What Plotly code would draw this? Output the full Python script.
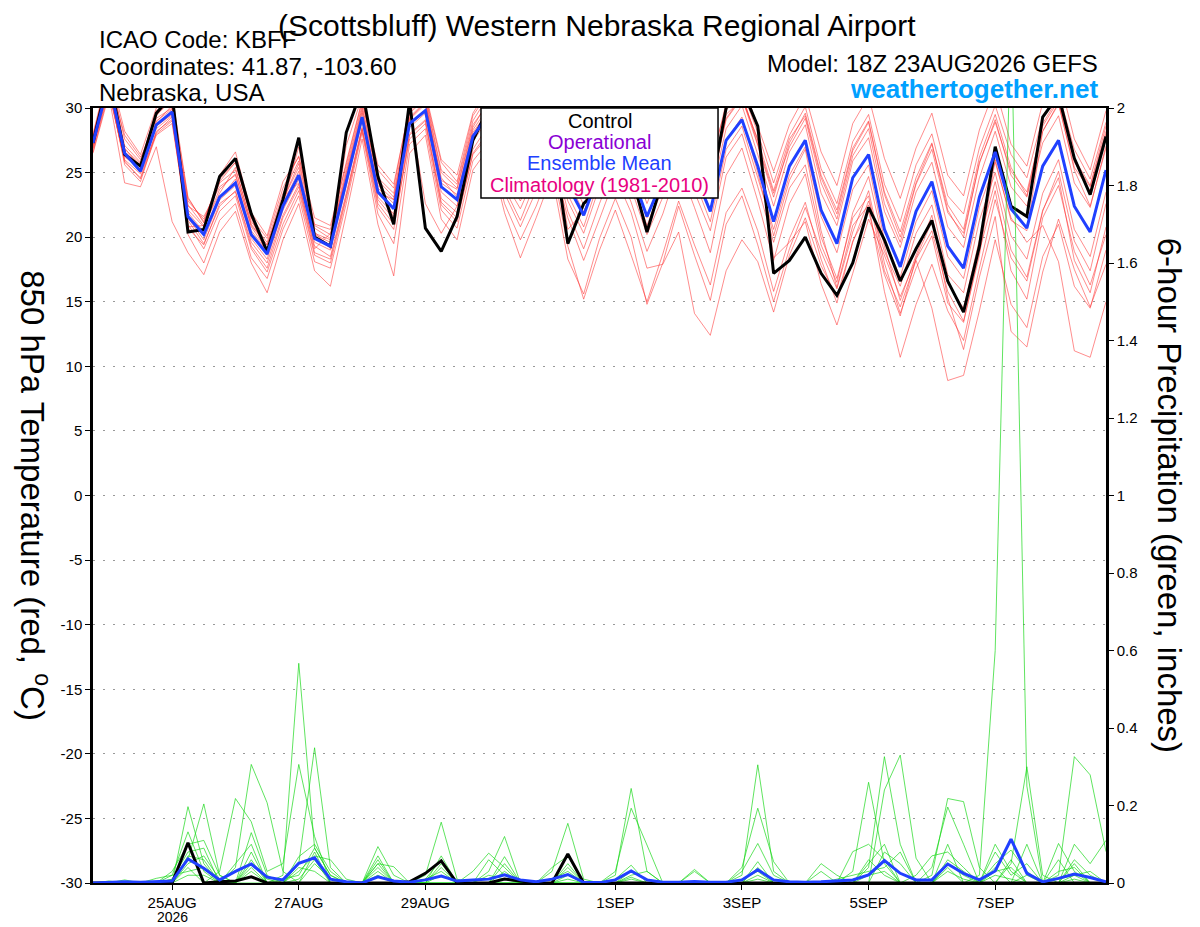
import pandas as pd
import plotly.graph_objects as go

# 6-hourly valid times, 18Z 23AUG2026 run
times = pd.date_range("2026-08-23 18:00", periods=65, freq="6h")

tick_dates = ["2026-08-25", "2026-08-27", "2026-08-29", "2026-09-01",
              "2026-09-03", "2026-09-05", "2026-09-07"]
tick_text = ["25AUG", "27AUG", "29AUG", "1SEP", "3SEP", "5SEP", "7SEP"]

temp_ticks = [-30, -25, -20, -15, -10, -5, 0, 5, 10, 15, 20, 25, 30]
temp_tick_text = ["-30", "-25", "-20", "-15", "-10", "-5", "0", "5", "10", "15", "20", "25", "30"]

# 850 hPa temperature, ensemble mean and control
t_mean = [27.3, 32.0, 26.5, 25.1, 28.7, 29.7, 21.6, 20.2, 23.1, 24.2, 20.2, 18.7, 22.4,
          24.8, 19.9, 19.3, 24.3, 29.3, 23.5, 22.2, 28.8, 29.8, 23.9, 22.9, 27.8, 29.5,
          25.5, 23.5, 26.0, 28.5, 24.0, 21.7, 25.0, 27.5, 25.0, 21.6, 24.5, 27.5, 25.0,
          22.0, 27.5, 29.1, 25.5, 21.2, 25.5, 27.5, 22.1, 19.5, 24.6, 26.4, 20.6, 17.7,
          22.0, 24.3, 19.3, 17.6, 23.1, 26.6, 22.2, 20.7, 25.5, 27.5, 22.4, 20.4, 25.2]
t_ctrl = [27.3, 32.5, 26.4, 25.5, 29.6, 31.0, 20.4, 20.6, 24.7, 26.1, 21.8, 18.9, 22.9,
          27.7, 20.0, 19.3, 28.1, 31.5, 24.7, 21.0, 30.5, 20.7, 18.9, 21.6, 27.5, 30.0,
          26.0, 24.0, 26.5, 28.0, 19.5, 22.6, 23.8, 27.0, 25.0, 20.4, 24.5, 28.0, 26.0,
          23.5, 30.0, 31.5, 28.6, 17.2, 18.2, 20.0, 17.2, 15.5, 18.0, 22.3, 19.8, 16.6,
          19.1, 21.3, 16.6, 14.2, 19.3, 27.0, 22.4, 21.6, 29.3, 31.0, 26.1, 23.3, 27.8]

# 850 hPa temperature, ensemble members
t_m01 = [27.8, 32.8, 27.6, 26.0, 29.5, 30.6, 23.0, 21.2, 24.5, 25.8, 21.5, 19.9, 23.8, 26.3, 21.0,
         20.6, 25.8, 30.6, 25.2, 23.8, 30.2, 31.0, 25.8, 24.3, 29.4, 31.2, 27.6, 25.1, 27.9, 30.3,
         26.2, 23.9, 27.2, 29.8, 27.5, 23.8, 26.9, 30.1, 27.6, 24.5, 29.8, 31.4, 28.1, 24.2, 27.9,
         30.1, 25.3, 22.6, 27.4, 29.5, 24.1, 21.2, 25.6, 28.0, 23.2, 21.8, 26.9, 30.2, 26.4, 24.6,
         29.3, 31.2, 26.8, 24.5, 28.9]
t_m02 = [26.9, 31.5, 25.8, 24.6, 28.2, 29.1, 20.7, 19.4, 22.6, 23.5, 19.6, 18.0, 21.7, 24.1, 19.3,
         18.5, 23.4, 28.5, 22.9, 21.4, 28.0, 29.1, 23.0, 21.9, 26.8, 28.7, 24.3, 22.2, 25.0, 27.6,
         22.8, 20.3, 23.9, 26.5, 23.8, 20.2, 23.1, 26.4, 23.5, 20.5, 26.2, 28.0, 23.9, 19.6, 23.8,
         25.6, 20.0, 16.8, 21.5, 23.2, 17.4, 14.6, 18.2, 14.5, 8.9, 9.3, 14.3, 19.8, 14.8, 13.0,
         18.5, 21.0, 16.2, 14.5, 19.0]
t_m03 = [27.5, 32.3, 26.9, 25.4, 29.0, 29.9, 22.1, 20.8, 23.7, 24.9, 20.8, 19.0, 22.9, 25.4, 20.3,
         19.8, 24.9, 29.6, 24.0, 22.9, 29.1, 30.3, 24.6, 23.1, 28.1, 29.8, 26.0, 23.6, 26.2, 28.9,
         24.5, 21.9, 25.3, 27.6, 25.2, 21.5, 24.6, 27.8, 25.3, 22.1, 27.5, 29.3, 25.0, 20.1, 24.4,
         26.8, 20.5, 16.1, 20.9, 22.5, 15.8, 10.7, 14.8, 17.9, 14.3, 12.0, 17.6, 22.9, 18.4, 16.6,
         22.0, 25.1, 19.7, 17.4, 22.6]
t_m04 = [26.6, 31.2, 26.0, 24.9, 28.0, 29.0, 21.3, 19.5, 22.4, 23.6, 19.3, 17.6, 21.5, 23.9, 18.8,
         18.3, 23.2, 28.4, 22.6, 21.0, 27.6, 28.8, 22.7, 21.5, 26.4, 27.9, 23.4, 20.8, 23.6, 26.1,
         21.5, 18.2, 21.4, 24.7, 21.9, 17.6, 17.9, 20.4, 14.1, 12.4, 17.4, 19.8, 18.1, 14.2, 18.6,
         21.5, 17.8, 15.4, 19.6, 22.8, 18.9, 16.2, 20.3, 22.5, 17.1, 15.7, 21.3, 25.0, 20.1, 18.3,
         23.4, 26.0, 20.6, 18.5, 23.5]
t_m05 = [27.4, 32.1, 26.2, 25.3, 28.9, 30.2, 21.9, 20.4, 23.0, 24.5, 20.5, 18.9, 22.6, 25.1, 20.2,
         19.6, 24.6, 29.8, 23.8, 22.6, 29.2, 30.4, 24.2, 23.3, 28.3, 30.1, 26.1, 24.2, 26.8, 29.3,
         25.1, 22.5, 25.9, 28.4, 26.0, 22.6, 25.6, 28.7, 26.1, 23.0, 28.4, 30.2, 26.4, 22.4, 26.6,
         28.7, 23.4, 20.9, 25.9, 27.7, 22.0, 19.2, 23.5, 25.8, 20.8, 19.2, 24.6, 28.2, 23.9, 22.4,
         27.3, 29.4, 24.2, 22.3, 27.1]
t_m06 = [27.9, 32.6, 27.1, 25.8, 29.2, 30.0, 22.8, 21.4, 24.2, 25.2, 21.2, 19.6, 23.4, 25.9, 20.9,
         20.2, 25.3, 30.2, 24.6, 23.4, 29.7, 30.9, 25.2, 24.1, 29.0, 31.0, 27.4, 25.3, 28.1, 30.6,
         26.8, 24.2, 27.5, 30.2, 27.8, 24.4, 27.3, 30.5, 28.1, 25.2, 30.4, 32.0, 28.6, 25.1, 28.7,
         31.0, 26.6, 24.0, 28.8, 30.9, 26.1, 23.0, 26.9, 29.6, 24.8, 23.2, 28.3, 31.6, 27.2, 25.5,
         30.4, 32.5, 27.6, 25.2, 29.8]
t_m07 = [27.0, 31.7, 25.6, 24.3, 28.1, 29.3, 20.2, 18.0, 21.3, 22.6, 18.4, 16.8, 20.6, 23.2, 18.1,
         17.6, 22.6, 28.1, 21.8, 19.5, 27.2, 28.4, 22.1, 20.7, 25.9, 27.4, 22.6, 19.8, 22.4, 25.6,
         19.3, 15.2, 19.0, 22.1, 18.6, 15.0, 18.7, 22.8, 19.4, 16.3, 21.9, 23.8, 20.5, 15.8, 19.9,
         22.7, 18.3, 14.9, 19.7, 22.0, 17.1, 13.9, 18.4, 21.2, 16.4, 14.5, 19.8, 24.3, 19.0, 16.9,
         22.1, 24.6, 18.2, 15.7, 20.8]
t_m08 = [27.2, 32.4, 26.6, 25.6, 29.4, 30.8, 20.8, 20.9, 24.3, 25.8, 21.5, 18.6, 22.5, 27.0, 20.4,
         19.1, 27.1, 30.9, 24.3, 21.5, 29.8, 22.6, 20.3, 22.4, 27.9, 29.9, 25.8, 23.3, 25.9, 27.6,
         20.6, 22.0, 24.4, 26.9, 24.6, 20.9, 24.1, 27.7, 25.7, 23.0, 29.5, 30.7, 27.6, 18.4, 19.6,
         21.2, 16.4, 13.2, 17.2, 21.4, 18.6, 15.4, 18.3, 20.5, 15.8, 13.5, 18.6, 26.0, 21.3, 20.5,
         28.2, 30.4, 25.2, 22.4, 26.9]
t_m09 = [27.6, 31.9, 26.4, 25.0, 28.6, 29.5, 21.5, 19.8, 22.9, 24.0, 19.9, 18.3, 22.1, 24.5, 19.6,
         19.0, 24.0, 29.0, 23.1, 21.8, 28.5, 29.6, 23.5, 22.4, 27.4, 29.2, 25.0, 22.8, 25.5, 28.0,
         23.3, 20.8, 24.5, 27.0, 24.3, 20.7, 23.8, 27.0, 24.4, 21.2, 26.8, 28.6, 24.6, 20.6, 24.8,
         27.0, 21.6, 18.8, 23.7, 25.6, 19.8, 16.9, 21.2, 23.6, 18.5, 16.8, 22.3, 25.8, 21.5, 19.6,
         20.9, 18.1, 11.2, 10.7, 15.0]
t_m10 = [28.0, 33.0, 28.2, 26.4, 30.0, 31.0, 23.1, 21.1, 24.8, 26.6, 21.9, 20.1, 24.3, 26.2, 21.5,
         20.9, 25.6, 30.5, 25.6, 24.1, 30.0, 31.2, 26.0, 24.8, 29.6, 31.5, 28.0, 26.1, 28.6, 31.0,
         27.5, 25.0, 28.1, 30.8, 28.4, 25.1, 28.0, 31.0, 28.7, 25.9, 30.0, 31.1, 27.2, 23.4, 27.0,
         29.2, 24.2, 21.4, 26.3, 28.4, 22.6, 19.6, 24.1, 26.8, 21.9, 20.3, 25.7, 29.1, 24.8, 23.1,
         28.2, 30.3, 25.4, 23.6, 28.0]
t_m11 = [26.8, 31.4, 25.9, 24.5, 27.9, 28.8, 21.0, 19.1, 22.0, 23.2, 19.1, 17.3, 21.0, 23.6, 18.6,
         18.0, 23.0, 28.3, 22.3, 20.6, 27.9, 29.0, 22.5, 21.2, 26.5, 28.2, 23.8, 21.3, 24.4, 27.0,
         22.0, 19.1, 22.6, 25.8, 22.7, 18.9, 21.8, 25.6, 22.3, 18.8, 24.8, 26.9, 22.8, 18.2, 22.6,
         24.9, 19.4, 16.5, 21.9, 24.7, 19.3, 15.1, 18.6, 21.7, 15.3, 11.3, 16.9, 21.6, 12.7, 11.5,
         17.3, 21.4, 17.5, 14.6, 17.9]
t_m12 = [27.1, 32.2, 27.9, 26.2, 28.4, 29.4, 22.4, 21.6, 23.9, 24.8, 20.9, 19.4, 23.1, 24.2, 19.1,
         20.3, 24.5, 29.3, 23.5, 22.9, 29.3, 30.5, 24.4, 23.7, 28.5, 30.6, 26.8, 24.8, 26.9, 29.8,
         25.6, 23.1, 26.4, 29.1, 26.8, 23.4, 26.2, 29.3, 26.8, 23.8, 29.1, 30.8, 27.1, 23.1, 27.3,
         29.6, 24.8, 22.1, 26.9, 29.0, 23.5, 20.4, 24.6, 27.3, 22.1, 20.0, 25.8, 28.9, 25.1, 23.5,
         28.6, 30.6, 25.8, 23.9, 28.2]
t_m13 = [26.5, 31.0, 24.2, 23.9, 27.0, 21.2, 18.8, 17.1, 20.4, 22.0, 18.0, 15.7, 19.8, 22.6, 17.4,
         16.2, 21.8, 27.6, 21.0, 17.0, 26.5, 27.9, 21.4, 19.8, 25.2, 26.9, 21.9, 18.4, 21.5, 24.8,
         18.3, 15.6, 19.9, 23.0, 20.0, 14.8, 18.0, 22.4, 18.6, 15.1, 21.0, 23.2, 19.4, 15.0, 19.1,
         22.3, 18.9, 16.0, 20.4, 23.6, 18.0, 14.1, 17.6, 20.1, 14.9, 13.4, 18.9, 23.6, 17.4, 15.2,
         21.5, 24.0, 18.9, 16.3, 20.2]
t_m14 = [27.7, 32.5, 26.8, 25.7, 29.8, 30.4, 22.5, 20.9, 23.4, 25.4, 21.0, 19.4, 22.9, 25.7, 20.7,
         19.9, 25.0, 30.0, 24.4, 23.1, 29.6, 30.7, 25.0, 23.8, 28.7, 30.4, 26.7, 24.6, 27.3, 29.9,
         25.8, 23.4, 26.8, 29.4, 27.0, 23.6, 26.6, 29.6, 27.0, 24.1, 29.2, 30.9, 27.5, 23.6, 27.6,
         29.4, 24.6, 21.8, 26.7, 28.9, 23.3, 20.0, 24.2, 27.2, 22.5, 20.6, 26.2, 29.5, 25.4, 23.2,
         28.8, 30.8, 26.1, 24.0, 28.6]

# 6-hour precipitation (inches), ensemble mean and control
p_mean = [0, 0.002, 0.003, 0.002, 0.003, 0.005, 0.062, 0.038, 0.008, 0.03, 0.049, 0.015, 0.008,
          0.051, 0.065, 0.01, 0.003, 0, 0.016, 0.005, 0.002, 0.008, 0.018, 0.005, 0.008, 0.01,
          0.021, 0.008, 0.003, 0.01, 0.022, 0.002, 0.001, 0.008, 0.031, 0.008, 0.002, 0.002, 0.004,
          0.002, 0.002, 0.008, 0.034, 0.008, 0.003, 0.002, 0.003, 0.005, 0.008, 0.021, 0.058, 0.025,
          0.008, 0.008, 0.049, 0.025, 0.008, 0.031, 0.113, 0.025, 0.003, 0.012, 0.023, 0.014, 0.003]
p_ctrl = [0, 0, 0, 0, 0, 0, 0.104, 0, 0.003, 0.005, 0.016, 0, 0,
          0, 0, 0, 0, 0, 0, 0, 0.003, 0.025, 0.057, 0, 0, 0,
          0.01, 0.005, 0, 0, 0.075, 0, 0, 0, 0, 0, 0, 0, 0,
          0, 0, 0, 0, 0, 0, 0, 0, 0, 0, 0, 0, 0,
          0, 0, 0, 0, 0, 0, 0, 0, 0, 0, 0, 0, 0]

# 6-hour precipitation, ensemble members
p_m01 = [0, 0, 0, 0, 0, 0, 0.197, 0.05, 0, 0, 0, 0, 0.02,
         0.567, 0.09, 0.02, 0, 0, 0, 0, 0, 0, 0.07, 0, 0, 0,
         0, 0, 0, 0, 0, 0, 0, 0.01, 0.046, 0, 0, 0, 0,
         0, 0, 0.02, 0.305, 0.03, 0, 0, 0, 0, 0, 0.04, 0.326, 0.10,
         0, 0, 0, 0, 0.02, 0.60, 2.25, 0.25, 0, 0, 0.05, 0, 0]
p_m02 = [0, 0, 0, 0, 0, 0.01, 0.06, 0.204, 0.02, 0, 0.08, 0, 0,
         0.05, 0.349, 0.04, 0, 0, 0.094, 0.02, 0, 0, 0, 0, 0, 0.03,
         0.12, 0, 0, 0, 0, 0, 0, 0.02, 0.244, 0.03, 0, 0, 0,
         0, 0, 0, 0, 0, 0, 0, 0, 0, 0.03, 0.26, 0.05, 0,
         0, 0.02, 0.218, 0.21, 0.04, 0, 0, 0.10, 0, 0.02, 0.326, 0.279, 0.081]
p_m03 = [0, 0, 0, 0, 0, 0, 0.04, 0, 0.03, 0.218, 0.158, 0.03, 0.05,
         0.306, 0.12, 0, 0, 0, 0, 0, 0, 0.02, 0.157, 0.01, 0, 0,
         0, 0, 0, 0.03, 0.154, 0.01, 0, 0, 0, 0, 0, 0, 0,
         0, 0, 0.04, 0.193, 0.055, 0, 0, 0, 0, 0, 0, 0.24, 0.33,
         0.064, 0, 0, 0, 0, 0.05, 0.085, 0.03, 0, 0.102, 0.03, 0, 0]
p_m04 = [0, 0.005, 0, 0, 0.012, 0.02, 0.132, 0.03, 0, 0.04, 0.306, 0.207, 0.03,
         0, 0.08, 0, 0, 0, 0.06, 0, 0, 0, 0, 0, 0.03, 0.077,
         0.04, 0, 0, 0, 0, 0, 0, 0.03, 0.193, 0.098, 0, 0, 0,
         0, 0, 0, 0, 0, 0, 0, 0.05, 0.02, 0, 0, 0, 0,
         0, 0.04, 0.196, 0.10, 0, 0, 0.05, 0.30, 0.02, 0, 0.10, 0.05, 0.11]
p_m05 = [0, 0, 0.008, 0, 0, 0.03, 0.10, 0.11, 0.02, 0, 0.13, 0.02, 0,
         0.068, 0.10, 0.03, 0, 0, 0.05, 0.042, 0, 0.01, 0.06, 0, 0, 0,
         0.068, 0, 0, 0.04, 0.07, 0, 0, 0, 0, 0, 0, 0, 0.035,
         0, 0, 0.03, 0.102, 0.02, 0, 0, 0, 0, 0.081, 0.10, 0.06, 0,
         0, 0, 0.10, 0, 0, 0.10, 0.03, 0, 0, 0.06, 0, 0, 0]
p_m06 = [0, 0, 0, 0, 0, 0.01, 0.08, 0.09, 0, 0.05, 0.10, 0, 0,
         0.03, 0.07, 0.06, 0.01, 0, 0.04, 0, 0, 0, 0.05, 0, 0, 0.06,
         0.02, 0, 0, 0, 0.05, 0, 0, 0, 0.02, 0.03, 0, 0, 0.03,
         0, 0, 0, 0.055, 0, 0, 0, 0.03, 0, 0, 0.05, 0.10, 0,
         0.02, 0.07, 0.08, 0.04, 0, 0.08, 0.02, 0.05, 0, 0, 0.02, 0.03, 0]
p_m07 = [0, 0, 0, 0, 0, 0, 0.05, 0.07, 0.01, 0, 0.06, 0, 0.01,
         0.02, 0.09, 0.02, 0, 0, 0.03, 0, 0, 0, 0.04, 0, 0, 0,
         0.03, 0, 0, 0.01, 0.03, 0, 0, 0, 0.01, 0, 0, 0, 0,
         0, 0, 0, 0.04, 0, 0, 0, 0, 0.01, 0.02, 0.03, 0.04, 0.08,
         0, 0, 0.05, 0.02, 0, 0.03, 0.04, 0, 0, 0.03, 0.04, 0, 0]
p_m08 = [0, 0, 0, 0, 0, 0.02, 0.03, 0.04, 0, 0, 0.05, 0.01, 0,
         0.01, 0.06, 0, 0, 0, 0.02, 0, 0, 0.01, 0.03, 0, 0, 0.02,
         0.01, 0, 0, 0, 0.02, 0, 0, 0, 0, 0, 0, 0, 0,
         0, 0, 0.01, 0.03, 0, 0, 0, 0, 0, 0, 0.02, 0.03, 0,
         0, 0, 0.03, 0.01, 0, 0.02, 0.01, 0, 0, 0, 0.01, 0, 0]
p_m09 = [0, 0, 0, 0, 0, 0, 0.07, 0.06, 0, 0, 0.04, 0, 0,
         0, 0.05, 0.01, 0, 0, 0.07, 0, 0, 0, 0.02, 0, 0, 0,
         0, 0, 0, 0, 0.04, 0, 0, 0, 0.03, 0.01, 0, 0, 0,
         0, 0, 0, 0.02, 0, 0, 0, 0, 0, 0, 0, 0.08, 0.05,
         0, 0, 0.04, 0, 0, 0.04, 0, 0.02, 0, 0, 0.06, 0.02, 0]
p_m10 = [0, 0, 0, 0, 0, 0, 0.02, 0.02, 0, 0, 0.03, 0, 0,
         0.04, 0.03, 0, 0, 0, 0.05, 0, 0, 0, 0, 0, 0, 0,
         0.05, 0, 0, 0, 0.01, 0, 0, 0, 0.015, 0, 0, 0, 0,
         0, 0, 0, 0.01, 0, 0, 0, 0, 0, 0, 0.06, 0.02, 0,
         0, 0, 0.06, 0.03, 0, 0, 0.06, 0, 0, 0.01, 0.02, 0, 0]

temp_members = [t_m01, t_m02, t_m03, t_m04, t_m05, t_m06, t_m07,
                t_m08, t_m09, t_m10, t_m11, t_m12, t_m13, t_m14]
precip_members = [p_m01, p_m02, p_m03, p_m04, p_m05, p_m06, p_m07,
                  p_m08, p_m09, p_m10]

FONT = "Liberation Sans, Arial, Helvetica, sans-serif"

fig = go.Figure()

for m in precip_members:
    fig.add_trace(go.Scatter(x=times, y=m, mode="lines", yaxis="y2",
                             line=dict(color="rgba(20,215,20,0.85)", width=0.8),
                             hoverinfo="skip"))
for m in temp_members:
    fig.add_trace(go.Scatter(x=times, y=m, mode="lines",
                             line=dict(color="rgba(255,50,50,0.7)", width=0.8),
                             hoverinfo="skip"))

fig.add_trace(go.Scatter(x=times, y=p_ctrl, mode="lines", yaxis="y2",
                         line=dict(color="black", width=3)))
fig.add_trace(go.Scatter(x=times, y=p_mean, mode="lines", yaxis="y2",
                         line=dict(color="#2040ff", width=3)))
fig.add_trace(go.Scatter(x=times, y=t_ctrl, mode="lines",
                         line=dict(color="black", width=3)))
fig.add_trace(go.Scatter(x=times, y=t_mean, mode="lines",
                         line=dict(color="#2040ff", width=3)))

# page has an 8px body margin, so the figure is sized to fit the 1200x927 window
fig.update_layout(
    width=1192, height=919, autosize=False,
    margin=dict(l=85, r=94, t=100, b=44),
    paper_bgcolor="white", plot_bgcolor="white",
    showlegend=False,
    font=dict(family=FONT, size=15, color="black"),
    xaxis=dict(type="date", range=[times[0], times[-1]],
               tickvals=tick_dates, ticktext=tick_text,
               ticks="outside", ticklen=5, tickcolor="black",
               showline=True, linecolor="black", linewidth=2, mirror=True,
               showgrid=False, zeroline=False, automargin=False,
               tickfont=dict(size=15, color="black")),
    yaxis=dict(range=[-30, 30], tickvals=temp_ticks, ticktext=temp_tick_text,
               ticks="outside", ticklen=5, tickcolor="black",
               showline=True, linecolor="black", linewidth=2.5,
               showgrid=True, gridcolor="#999999", griddash="2px,8px", gridwidth=1,
               zeroline=False, automargin=False,
               tickfont=dict(size=15, color="black")),
    yaxis2=dict(range=[0, 2], dtick=0.2, overlaying="y", side="right",
                ticks="outside", ticklen=5, tickcolor="black",
                showline=True, linecolor="black", linewidth=2.5,
                showgrid=False, zeroline=False, automargin=False,
                tickfont=dict(size=15, color="black")),
)

# year under the first date label
fig.add_annotation(text="2026", xref="x", yref="paper", x="2026-08-25", y=-0.0439,
                   showarrow=False, xanchor="center", yanchor="middle",
                   font=dict(size=14, family=FONT, color="black"))

# legend box
fig.add_shape(type="rect", xref="paper", yref="paper",
              x0=0.383, x1=0.617, y0=0.884, y1=1.0,
              fillcolor="white", line=dict(color="black", width=1.5),
              layer="above")
legend_items = [("Control", "black", 0.983),
                ("Operational", "#8a00d4", 0.956),
                ("Ensemble Mean", "#2040ff", 0.929),
                ("Climatology (1981-2010)", "#e8007f", 0.9005)]
for label, color, ypos in legend_items:
    fig.add_annotation(text=label, xref="paper", yref="paper", x=0.5, y=ypos,
                       showarrow=False, xanchor="center", yanchor="middle",
                       font=dict(size=20, color=color, family=FONT))

# header texts
fig.add_annotation(text="(Scottsbluff) Western Nebraska Regional Airport",
                   xref="paper", yref="paper", x=0.4975, y=1.1065,
                   showarrow=False, xanchor="center", yanchor="middle",
                   font=dict(size=30, family=FONT, color="black"))
for txt, ypos in [("ICAO Code: KBFF", 1.0885), ("Coordinates: 41.87, -103.60", 1.054),
                  ("Nebraska, USA", 1.020)]:
    fig.add_annotation(text=txt, xref="paper", yref="paper", x=0.004, y=ypos,
                       showarrow=False, xanchor="left", yanchor="middle",
                       font=dict(size=24, family=FONT, color="black"))
fig.add_annotation(text="Model: 18Z 23AUG2026 GEFS", xref="paper", yref="paper",
                   x=0.994, y=1.058, showarrow=False, xanchor="right", yanchor="middle",
                   font=dict(size=24, family=FONT, color="black"))
fig.add_annotation(text="<b>weathertogether.net</b>", xref="paper", yref="paper",
                   x=0.994, y=1.0245, showarrow=False, xanchor="right", yanchor="middle",
                   font=dict(size=26, family=FONT, color="#00a0ff"))

# axis titles (read top to bottom)
fig.add_annotation(text="850 hPa Temperature (red, <sup>o</sup>C)",
                   xref="paper", yref="paper", x=-0.057, y=0.5, textangle=90,
                   showarrow=False, xanchor="center", yanchor="middle",
                   font=dict(size=33, family=FONT, color="black"))
fig.add_annotation(text="6-hour Precipitation (green, inches)",
                   xref="paper", yref="paper", x=1.063, y=0.5, textangle=90,
                   showarrow=False, xanchor="center", yanchor="middle",
                   font=dict(size=33, family=FONT, color="black"))

fig.write_html("out.html")
